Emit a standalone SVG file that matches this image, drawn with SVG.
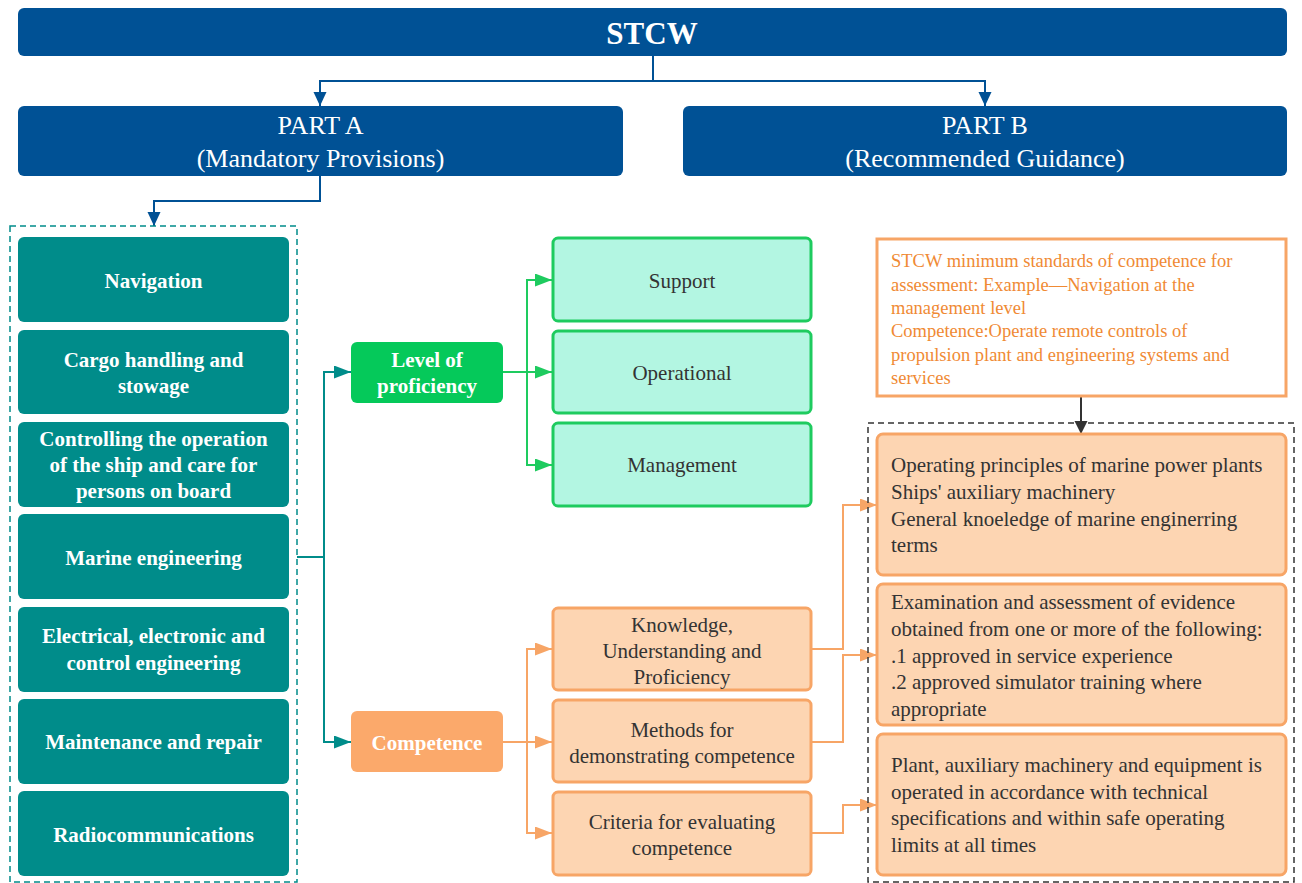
<svg xmlns="http://www.w3.org/2000/svg" width="1302" height="883" viewBox="0 0 1302 883" font-family="'Liberation Serif', 'Times New Roman', Tinos, 'DejaVu Serif', serif">
<style>
.wb{fill:#fff;font-weight:bold;font-size:21px;text-anchor:middle;}
.wt{fill:#fff;font-size:26px;text-anchor:middle;}
.lg{fill:#b3f6e2;stroke:#1ecb5f;stroke-width:3;}
.lo{fill:#fdd5b2;stroke:#f7a566;stroke-width:3;}
.dk{fill:#333;font-size:21px;}
.mid{text-anchor:middle;}
.og{fill:#f08a34;font-size:18.5px;}
.blue{fill:#005195;}
.teal{fill:#008c8a;}
.cb{fill:none;stroke:#005195;stroke-width:2;}
.ct{fill:none;stroke:#008c8a;stroke-width:2;}
.cg{fill:none;stroke:#1ecb5f;stroke-width:2;}
.co{fill:none;stroke:#f7a566;stroke-width:2;}
.ck{fill:none;stroke:#333;stroke-width:2;}
</style>
<defs>
<marker id="ab" markerUnits="userSpaceOnUse" markerWidth="14" markerHeight="14" refX="14" refY="6.5" orient="auto"><path d="M0,0 L14,6.5 L0,13 z" fill="#005195"/></marker>
<marker id="at" markerUnits="userSpaceOnUse" markerWidth="18" markerHeight="14" refX="17" refY="6.5" orient="auto"><path d="M0,0 L17,6.5 L0,13 z" fill="#008c8a"/></marker>
<marker id="ag" markerUnits="userSpaceOnUse" markerWidth="18" markerHeight="14" refX="17" refY="6.5" orient="auto"><path d="M0,0 L17,6.5 L0,13 z" fill="#1ecb5f"/></marker>
<marker id="ao" markerUnits="userSpaceOnUse" markerWidth="18" markerHeight="14" refX="17" refY="6.5" orient="auto"><path d="M0,0 L17,6.5 L0,13 z" fill="#f7a566"/></marker>
<marker id="ak" markerUnits="userSpaceOnUse" markerWidth="14" markerHeight="14" refX="13" refY="6.5" orient="auto"><path d="M0,0 L13,6.5 L0,13 z" fill="#333"/></marker>
</defs>

<g id="connectors">
<path class="cb" d="M653,56 V81 H320 V106" marker-end="url(#ab)"/>
<path class="cb" d="M653,81 H985 V106" marker-end="url(#ab)"/>
<path class="cb" d="M320,176 V201 H154 V226" marker-end="url(#ab)"/>
<path class="ct" d="M297,557 H324"/>
<path class="ct" d="M324,742 V372 H351" marker-end="url(#at)"/>
<path class="ct" d="M324,557 V742 H351" marker-end="url(#at)"/>
<path class="cg" d="M503,372 H552" marker-end="url(#ag)"/>
<path class="cg" d="M527,372 V280 H552" marker-end="url(#ag)"/>
<path class="cg" d="M527,372 V465 H552" marker-end="url(#ag)"/>
<path class="co" d="M503,742 H552" marker-end="url(#ao)"/>
<path class="co" d="M527,742 V649 H552" marker-end="url(#ao)"/>
<path class="co" d="M527,742 V833 H552" marker-end="url(#ao)"/>
<path class="co" d="M811,649 H843 V505 H877" marker-end="url(#ao)"/>
<path class="co" d="M811,742 H843 V655 H877" marker-end="url(#ao)"/>
<path class="co" d="M811,833 H843 V805 H877" marker-end="url(#ao)"/>
<path class="ck" d="M1081,397 V434" marker-end="url(#ak)"/>
</g>

<g id="stcw">
<rect class="blue" x="18" y="8" width="1269" height="48" rx="6"/>
<text x="652" y="44" fill="#fff" font-weight="bold" font-size="31" text-anchor="middle">STCW</text>
</g>
<g id="partA">
<rect class="blue" x="18" y="106" width="605" height="70" rx="6"/>
<text class="wt" x="320.5" y="134">PART A</text>
<text class="wt" x="320.5" y="167">(Mandatory Provisions)</text>
</g>
<g id="partB">
<rect class="blue" x="683" y="106" width="604" height="70" rx="6"/>
<text class="wt" x="985" y="134">PART B</text>
<text class="wt" x="985" y="167">(Recommended Guidance)</text>
</g>

<g id="functions">
<rect x="10" y="226" width="287" height="656" fill="none" stroke="#008c8a" stroke-width="1.5" stroke-dasharray="6,4"/>
</g>
<g id="navigation">
<rect class="teal" x="18" y="237" width="271" height="85" rx="6"/>
<text class="wb" x="153.5" y="288">Navigation</text>
</g>
<g id="cargo">
<rect class="teal" x="18" y="330" width="271" height="84" rx="6"/>
<text class="wb" x="153.5" y="367">Cargo handling and</text>
<text class="wb" x="153.5" y="393">stowage</text>
</g>
<g id="controlling">
<rect class="teal" x="18" y="422" width="271" height="85" rx="6"/>
<text class="wb" x="153.5" y="446">Controlling the operation</text>
<text class="wb" x="153.5" y="472">of the ship and care for</text>
<text class="wb" x="153.5" y="498">persons on board</text>
</g>
<g id="marine">
<rect class="teal" x="18" y="514" width="271" height="85" rx="6"/>
<text class="wb" x="153.5" y="565">Marine engineering</text>
</g>
<g id="electrical">
<rect class="teal" x="18" y="607" width="271" height="85" rx="6"/>
<text class="wb" x="153.5" y="643">Electrical, electronic and</text>
<text class="wb" x="153.5" y="670">control engineering</text>
</g>
<g id="maintenance">
<rect class="teal" x="18" y="699" width="271" height="85" rx="6"/>
<text class="wb" x="153.5" y="749">Maintenance and repair</text>
</g>
<g id="radio">
<rect class="teal" x="18" y="791" width="271" height="85" rx="6"/>
<text class="wb" x="153.5" y="842">Radiocommunications</text>
</g>

<g id="level">
<rect x="351" y="342" width="152" height="61" rx="6" fill="#05c95a"/>
<text class="wb" x="427" y="367">Level of</text>
<text class="wb" x="427" y="393">proficiency</text>
</g>
<g id="competence">
<rect x="351" y="711" width="152" height="61" rx="6" fill="#fba96b"/>
<text class="wb" x="427" y="750">Competence</text>
</g>

<g id="support">
<rect class="lg" x="553" y="238" width="258" height="83" rx="5"/>
<text class="dk mid" x="682" y="288">Support</text>
</g>
<g id="operational">
<rect class="lg" x="553" y="331" width="258" height="82" rx="5"/>
<text class="dk mid" x="682" y="380">Operational</text>
</g>
<g id="management">
<rect class="lg" x="553" y="423" width="258" height="83" rx="5"/>
<text class="dk mid" x="682" y="472">Management</text>
</g>

<g id="knowledge">
<rect class="lo" x="553" y="608" width="258" height="82" rx="5"/>
<text class="dk mid" x="682" y="632">Knowledge,</text>
<text class="dk mid" x="682" y="658">Understanding and</text>
<text class="dk mid" x="682" y="684">Proficiency</text>
</g>
<g id="methods">
<rect class="lo" x="553" y="700" width="258" height="82" rx="5"/>
<text class="dk mid" x="682" y="737">Methods for</text>
<text class="dk mid" x="682" y="763">demonstrating competence</text>
</g>
<g id="criteria">
<rect class="lo" x="553" y="792" width="258" height="83" rx="5"/>
<text class="dk mid" x="682" y="829">Criteria for evaluating</text>
<text class="dk mid" x="682" y="855">competence</text>
</g>

<g id="example">
<rect x="877" y="239" width="409" height="157" fill="#fff" stroke="#f7a566" stroke-width="3"/>
<text class="og" x="891" y="267">STCW minimum standards of competence for</text>
<text class="og" x="891" y="291">assessment: Example—Navigation at the</text>
<text class="og" x="891" y="314">management level</text>
<text class="og" x="891" y="337">Competence:Operate remote controls of</text>
<text class="og" x="891" y="361">propulsion plant and engineering systems and</text>
<text class="og" x="891" y="384">services</text>
</g>

<g id="details">
<rect x="868" y="423" width="426" height="459" fill="none" stroke="#333" stroke-width="1.5" stroke-dasharray="6,4"/>
</g>
<g id="knowledgeDetail">
<rect class="lo" x="877" y="434" width="409" height="141" rx="6"/>
<text class="dk" x="891" y="472">Operating principles of marine power plants</text>
<text class="dk" x="891" y="499">Ships' auxiliary machinery</text>
<text class="dk" x="891" y="526">General knoeledge of marine enginerring</text>
<text class="dk" x="891" y="552">terms</text>
</g>
<g id="methodsDetail">
<rect class="lo" x="877" y="584" width="409" height="141" rx="6"/>
<text class="dk" x="891" y="609">Examination and assessment of evidence</text>
<text class="dk" x="891" y="636">obtained from one or more of the following:</text>
<text class="dk" x="891" y="663">.1 approved in service experience</text>
<text class="dk" x="891" y="689">.2 approved simulator training where</text>
<text class="dk" x="891" y="716">appropriate</text>
</g>
<g id="criteriaDetail">
<rect class="lo" x="877" y="734" width="409" height="141" rx="6"/>
<text class="dk" x="891" y="772">Plant, auxiliary machinery and equipment is</text>
<text class="dk" x="891" y="799">operated in accordance with technical</text>
<text class="dk" x="891" y="825">specifications and within safe operating</text>
<text class="dk" x="891" y="852">limits at all times</text>
</g>
</svg>
